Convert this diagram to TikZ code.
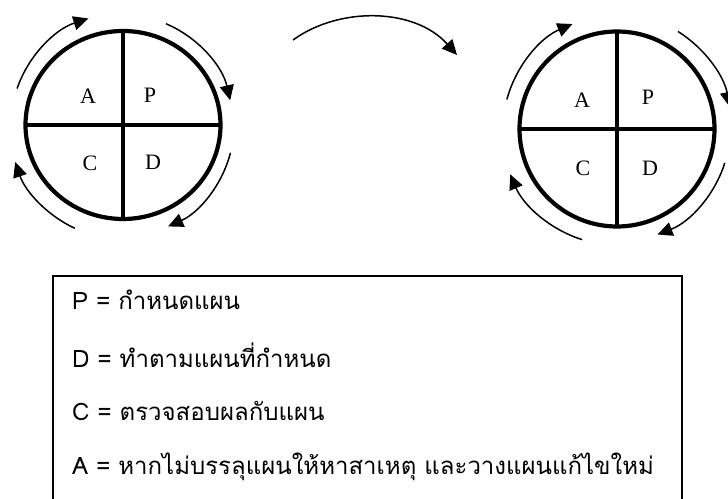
\documentclass[tikz,border=0pt]{standalone}
\usepackage{fontspec}
\setmainfont{Liberation Serif}
\newfontfamily\thaifont[Script=Thai]{Loma}
\usetikzlibrary{arrows.meta,shapes.geometric,calc}
\tikzset{
  wheel/.style={draw, ellipse, inner sep=0pt, outer sep=0pt, line width=4.2pt},
  cross/.style={line width=3.2pt},
  letter/.style={font=\fontsize{22}{24}\selectfont, inner sep=0pt},
  arr/.style={line width=1.5pt, -{Triangle[length=15pt,width=14pt]}},
  legend/.style={font=\thaifont\fontsize{24}{28}\selectfont, anchor=west, inner sep=0pt},
  boxline/.style={line width=2.2pt}
}
\begin{document}
\begin{tikzpicture}[x=1pt,y=1pt]
\useasboundingbox (0,0) rectangle (728,498);
% left wheel
\node[wheel, minimum width=195pt, minimum height=188pt] (L) at (123,373) {};
\draw[cross] (L.west) -- (L.east);
\draw[cross] (L.north) -- (L.south);
\node[letter] (LA) at ($(L.center)+(-35,29)$) {A};
\node[letter] (LP) at ($(L.center)+(27,30)$) {P};
\node[letter] (LC) at ($(L.center)+(-33,-38)$) {C};
\node[letter] (LD) at ($(L.center)+(30,-37)$) {D};
\draw[arr] ($(L.center)+(161:112)$) arc[start angle=161, end angle=108, radius=112];
\draw[arr] ($(L.center)+(67:110)$) arc[start angle=67, end angle=13, radius=110];
\draw[arr] ($(L.center)+(-14.5:111)$) arc[start angle=-14.5, end angle=-66, radius=111];
\draw[arr] ($(L.center)+(245:114)$) arc[start angle=245, end angle=199, radius=114];
% right wheel
\node[wheel, minimum width=195pt, minimum height=195pt] (R) at (617,369) {};
\draw[cross] (R.west) -- (R.east);
\draw[cross] (R.north) -- (R.south);
\node[letter] (RA) at ($(R.center)+(-35,29)$) {A};
\node[letter] (RP) at ($(R.center)+(31,32)$) {P};
\node[letter] (RC) at ($(R.center)+(-34,-39)$) {C};
\node[letter] (RD) at ($(R.center)+(33,-39)$) {D};
\draw[arr] ($(R.center)+(165:114)$) arc[start angle=165, end angle=113, radius=114];
\draw[arr] ($(R.center)+(58:115)$) arc[start angle=58, end angle=11, radius=115];
\draw[arr] ($(R.center)+(-17.5:113)$) arc[start angle=-17.5, end angle=-69, radius=113];
\draw[arr] ($(R.center)+(252.5:116)$) arc[start angle=252.5, end angle=203, radius=116];
% middle arrow
\coordinate (ms) at (293,458);
\coordinate (mt) at (457,443);
\draw[arr] (ms) .. controls (340,492) and (415,490) .. (mt);
% legend box
\draw[boxline] (53,-5) -- (53,222) -- (682,222) -- (682,-5);
\node[legend] (t1) at (72,198) {P = กำหนดแผน};
\node[legend] (t2) at (72,143) {D = ทำตามแผนที่กำหนด};
\node[legend] (t3) at (72,87) {C = ตรวจสอบผลกับแผน};
\node[legend] (t4) at (72,31) {A = หากไม่บรรลุแผนให้หาสาเหตุ และวางแผนแก้ไขใหม่};
\end{tikzpicture}
\end{document}
